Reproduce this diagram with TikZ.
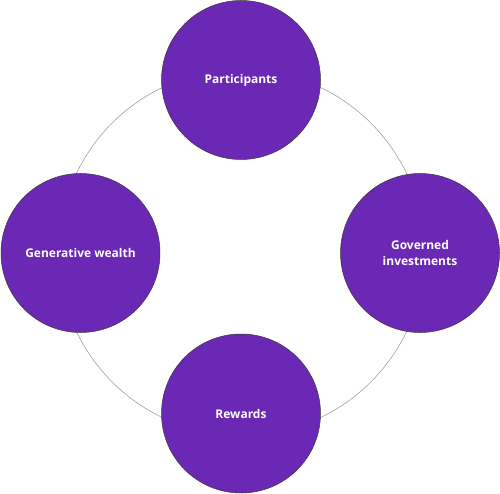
\documentclass[tikz,border=0pt]{standalone}
\usepackage{fontspec}
\setmainfont{Open Sans}
\definecolor{bubble}{HTML}{6A28B5}
\definecolor{rim}{HTML}{3A3A3A}
\definecolor{ring}{HTML}{A0A0A0}
\tikzset{
  bubblenode/.style={circle, fill=bubble, draw=rim, line width=0.5pt,
    minimum size=159pt, inner sep=0pt, text=white, align=center,
    font=\fontsize{12pt}{16.7pt}\selectfont\bfseries},
  ringline/.style={draw=ring, line width=0.6pt}
}
\begin{document}
\begin{tikzpicture}[x=1pt,y=-1pt]
\useasboundingbox (0,0) rectangle (500,494);
\coordinate (hub) at (241.5,252.5);
\draw[ringline] (hub) circle[radius=183];
\node[bubblenode] (participants) at (241,80) {Participants};
\node[bubblenode] (wealth) at (80.5,253) {Generative wealth};
\node[bubblenode] (governed) at (420,253) {Governed\\investments};
\node[bubblenode] (rewards) at (241,413.5) {Rewards};
\end{tikzpicture}
\end{document}
